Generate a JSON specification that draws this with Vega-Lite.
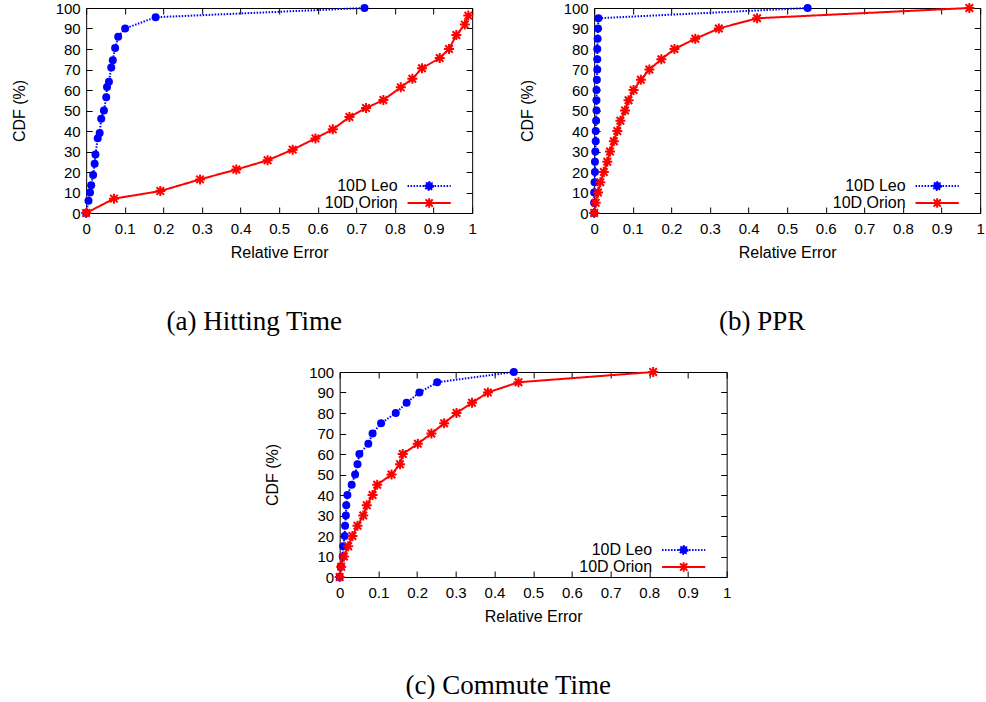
{
  "$schema": "https://vega.github.io/schema/vega-lite/v6.json",
  "background": "white",
  "padding": {"left": 10, "top": -2, "right": 0, "bottom": 0},
  "config": {
    "font": "Liberation Sans",
    "view": {"stroke": "black", "strokeWidth": 1},
    "axis": {
      "labelFont": "Liberation Sans", "labelFontSize": 15, "labelColor": "black",
      "titleFont": "Liberation Sans", "titleFontSize": 16, "titleFontWeight": "normal", "titleColor": "black",
      "tickColor": "black", "tickWidth": 1, "tickSize": -6, "grid": false, "domain": false,
      "labelFlush": false, "labelOverlap": false
    },
    "axisX": {"labelPadding": 14.5, "titlePadding": 8},
    "axisY": {"labelPadding": 12, "titlePadding": 28},
    "title": {"orient": "bottom", "anchor": "middle", "frame": "group", "offset": 48, "dx": -25, "font": "Liberation Serif", "fontSize": 27, "fontWeight": "normal", "color": "black"},
    "legend": {
      "orient": "bottom-right", "offset": 1, "padding": 0, "title": null,
      "labelFont": "Liberation Sans", "labelFontSize": 16, "labelColor": "black",
      "labelAlign": "right", "labelOffset": -40.5, "symbolSize": 256, "rowPadding": 0
    }
  },
  "resolve": {"scale": {"color": "independent", "strokeDash": "independent"}, "legend": {"color": "independent", "strokeDash": "independent"}},
  "spacing": 27,
  "center": true,
  "vconcat": [
    {
      "spacing": 40,
      "resolve": {"scale": {"color": "independent", "strokeDash": "independent"}, "legend": {"color": "independent", "strokeDash": "independent"}},
      "hconcat": [
        {
          "width": 386, "height": 205,
          "title": {"text": "(a) Hitting Time"},
          "data": {"values": [
            {"series": "10D Leo", "x": 0, "y": 0},
            {"series": "10D Leo", "x": 0.006, "y": 6},
            {"series": "10D Leo", "x": 0.010, "y": 10},
            {"series": "10D Leo", "x": 0.013, "y": 13.5},
            {"series": "10D Leo", "x": 0.018, "y": 18.5},
            {"series": "10D Leo", "x": 0.022, "y": 24},
            {"series": "10D Leo", "x": 0.024, "y": 28.5},
            {"series": "10D Leo", "x": 0.030, "y": 36.5},
            {"series": "10D Leo", "x": 0.035, "y": 39},
            {"series": "10D Leo", "x": 0.039, "y": 46},
            {"series": "10D Leo", "x": 0.046, "y": 50},
            {"series": "10D Leo", "x": 0.052, "y": 56.5},
            {"series": "10D Leo", "x": 0.054, "y": 61.5},
            {"series": "10D Leo", "x": 0.059, "y": 64},
            {"series": "10D Leo", "x": 0.065, "y": 71},
            {"series": "10D Leo", "x": 0.069, "y": 74.5},
            {"series": "10D Leo", "x": 0.075, "y": 80.5},
            {"series": "10D Leo", "x": 0.083, "y": 86},
            {"series": "10D Leo", "x": 0.101, "y": 90},
            {"series": "10D Leo", "x": 0.180, "y": 95.5},
            {"series": "10D Leo", "x": 0.721, "y": 100},
            {"series": "10D Orion", "x": 0, "y": 0},
            {"series": "10D Orion", "x": 0.072, "y": 7},
            {"series": "10D Orion", "x": 0.192, "y": 10.7},
            {"series": "10D Orion", "x": 0.295, "y": 16.4},
            {"series": "10D Orion", "x": 0.389, "y": 21.2},
            {"series": "10D Orion", "x": 0.470, "y": 25.7},
            {"series": "10D Orion", "x": 0.535, "y": 30.9},
            {"series": "10D Orion", "x": 0.594, "y": 36.4},
            {"series": "10D Orion", "x": 0.639, "y": 40.8},
            {"series": "10D Orion", "x": 0.682, "y": 46.8},
            {"series": "10D Orion", "x": 0.725, "y": 51.2},
            {"series": "10D Orion", "x": 0.770, "y": 55.1},
            {"series": "10D Orion", "x": 0.815, "y": 61.3},
            {"series": "10D Orion", "x": 0.845, "y": 65.5},
            {"series": "10D Orion", "x": 0.870, "y": 70.6},
            {"series": "10D Orion", "x": 0.916, "y": 75.6},
            {"series": "10D Orion", "x": 0.940, "y": 80},
            {"series": "10D Orion", "x": 0.959, "y": 86.8},
            {"series": "10D Orion", "x": 0.981, "y": 91.9},
            {"series": "10D Orion", "x": 0.990, "y": 96.3}
          ]},
          "layer": [
            {
              "mark": {"type": "line", "strokeWidth": 2, "clip": false},
              "encoding": {
                "x": {"field": "x", "type": "quantitative", "scale": {"domain": [0, 1], "nice": false, "zero": false}, "axis": {"orient": "bottom", "title": "Relative Error", "values": [0, 0.1, 0.2, 0.3, 0.4, 0.5, 0.6, 0.7, 0.8, 0.9, 1], "format": "~g"}},
                "y": {"field": "y", "type": "quantitative", "scale": {"domain": [0, 100], "nice": false}, "axis": {"orient": "left", "title": "CDF (%)", "values": [0, 10, 20, 30, 40, 50, 60, 70, 80, 90, 100]}},
                "order": {"field": "y", "type": "quantitative"},
                "color": {"field": "series", "type": "nominal", "scale": {"domain": ["10D Leo", "10D Orion"], "range": ["#0000ff", "#ff0000"]},
                  "legend": {"encode": {"symbols": {"update": {
                    "shape": {"signal": "datum.value === '10D Leo' ? 'M4.73,0M-2.7,0L2.7,0M0.5,0L0.433,0.25L0.25,0.433L0,0.5L-0.25,0.433L-0.433,0.25L-0.5,0L-0.433,-0.25L-0.25,-0.433L0,-0.5L0.25,-0.433L0.433,-0.25Z' : 'M4.73,0M-2.7,0L2.7,0M0,-0.6L0,0.6M-0.45,-0.45L0.45,0.45M-0.45,0.45L0.45,-0.45'"},
                    "fill": {"signal": "datum.value === '10D Leo' ? '#0000ff' : 'transparent'"},
                    "stroke": {"signal": "datum.value === '10D Leo' ? '#0000ff' : '#ff0000'"},
                    "strokeDash": {"signal": "datum.value === '10D Leo' ? [1.5, 1.5] : [1, 0]"},
                    "strokeWidth": {"value": 2},
                    "size": {"value": 256},
                    "opacity": {"value": 1}
                  }}}}},
                "strokeDash": {"field": "series", "type": "nominal", "scale": {"domain": ["10D Leo", "10D Orion"], "range": [[1.5, 1.5], [1, 0]]}, "legend": null}
              }
            },
            {
              "transform": [{"filter": "datum.series === '10D Leo'"}],
              "mark": {"type": "point", "shape": "circle", "filled": true, "color": "#0000ff", "size": 64, "opacity": 1, "clip": false},
              "encoding": {
                "x": {"field": "x", "type": "quantitative", "axis": null},
                "y": {"field": "y", "type": "quantitative", "axis": null}
              }
            },
            {
              "transform": [{"filter": "datum.series === '10D Orion'"}],
              "mark": {"type": "point", "shape": "M-1,0L1,0M0,-1L0,1M-0.75,-0.75L0.75,0.75M-0.75,0.75L0.75,-0.75", "filled": false, "stroke": "#ff0000", "strokeWidth": 2, "size": 100, "opacity": 1, "clip": false},
              "encoding": {
                "x": {"field": "x", "type": "quantitative", "axis": {"orient": "top", "labels": false, "title": null, "values": [0, 0.1, 0.2, 0.3, 0.4, 0.5, 0.6, 0.7, 0.8, 0.9, 1]}},
                "y": {"field": "y", "type": "quantitative", "axis": {"orient": "right", "labels": false, "title": null, "values": [0, 10, 20, 30, 40, 50, 60, 70, 80, 90, 100]}}
              }
            }
          ]
        },
        {
          "width": 386, "height": 205,
          "title": {"text": "(b) PPR"},
          "data": {"values": [
            {"series": "10D Leo", "x": 0, "y": 0},
            {"series": "10D Leo", "x": 0, "y": 5},
            {"series": "10D Leo", "x": 0, "y": 10},
            {"series": "10D Leo", "x": 0.001, "y": 15},
            {"series": "10D Leo", "x": 0.002, "y": 20},
            {"series": "10D Leo", "x": 0.002, "y": 25},
            {"series": "10D Leo", "x": 0.003, "y": 30},
            {"series": "10D Leo", "x": 0.004, "y": 35},
            {"series": "10D Leo", "x": 0.004, "y": 40},
            {"series": "10D Leo", "x": 0.005, "y": 45},
            {"series": "10D Leo", "x": 0.006, "y": 50},
            {"series": "10D Leo", "x": 0.006, "y": 55},
            {"series": "10D Leo", "x": 0.006, "y": 60},
            {"series": "10D Leo", "x": 0.007, "y": 65},
            {"series": "10D Leo", "x": 0.008, "y": 70},
            {"series": "10D Leo", "x": 0.008, "y": 75},
            {"series": "10D Leo", "x": 0.008, "y": 80},
            {"series": "10D Leo", "x": 0.009, "y": 85},
            {"series": "10D Leo", "x": 0.010, "y": 90},
            {"series": "10D Leo", "x": 0.011, "y": 95},
            {"series": "10D Leo", "x": 0.553, "y": 100},
            {"series": "10D Orion", "x": 0, "y": 0},
            {"series": "10D Orion", "x": 0.004, "y": 5},
            {"series": "10D Orion", "x": 0.010, "y": 10},
            {"series": "10D Orion", "x": 0.016, "y": 15},
            {"series": "10D Orion", "x": 0.025, "y": 20},
            {"series": "10D Orion", "x": 0.034, "y": 25},
            {"series": "10D Orion", "x": 0.041, "y": 30},
            {"series": "10D Orion", "x": 0.051, "y": 35},
            {"series": "10D Orion", "x": 0.060, "y": 40},
            {"series": "10D Orion", "x": 0.068, "y": 45},
            {"series": "10D Orion", "x": 0.080, "y": 50},
            {"series": "10D Orion", "x": 0.089, "y": 55},
            {"series": "10D Orion", "x": 0.102, "y": 60},
            {"series": "10D Orion", "x": 0.121, "y": 65},
            {"series": "10D Orion", "x": 0.143, "y": 70},
            {"series": "10D Orion", "x": 0.174, "y": 75},
            {"series": "10D Orion", "x": 0.208, "y": 80},
            {"series": "10D Orion", "x": 0.262, "y": 85},
            {"series": "10D Orion", "x": 0.323, "y": 90},
            {"series": "10D Orion", "x": 0.422, "y": 95},
            {"series": "10D Orion", "x": 0.972, "y": 100}
          ]},
          "layer": [
            {
              "mark": {"type": "line", "strokeWidth": 2, "clip": false},
              "encoding": {
                "x": {"field": "x", "type": "quantitative", "scale": {"domain": [0, 1], "nice": false, "zero": false}, "axis": {"orient": "bottom", "title": "Relative Error", "values": [0, 0.1, 0.2, 0.3, 0.4, 0.5, 0.6, 0.7, 0.8, 0.9, 1], "format": "~g"}},
                "y": {"field": "y", "type": "quantitative", "scale": {"domain": [0, 100], "nice": false}, "axis": {"orient": "left", "title": "CDF (%)", "values": [0, 10, 20, 30, 40, 50, 60, 70, 80, 90, 100]}},
                "order": {"field": "y", "type": "quantitative"},
                "color": {"field": "series", "type": "nominal", "scale": {"domain": ["10D Leo", "10D Orion"], "range": ["#0000ff", "#ff0000"]},
                  "legend": {"encode": {"symbols": {"update": {
                    "shape": {"signal": "datum.value === '10D Leo' ? 'M4.73,0M-2.7,0L2.7,0M0.5,0L0.433,0.25L0.25,0.433L0,0.5L-0.25,0.433L-0.433,0.25L-0.5,0L-0.433,-0.25L-0.25,-0.433L0,-0.5L0.25,-0.433L0.433,-0.25Z' : 'M4.73,0M-2.7,0L2.7,0M0,-0.6L0,0.6M-0.45,-0.45L0.45,0.45M-0.45,0.45L0.45,-0.45'"},
                    "fill": {"signal": "datum.value === '10D Leo' ? '#0000ff' : 'transparent'"},
                    "stroke": {"signal": "datum.value === '10D Leo' ? '#0000ff' : '#ff0000'"},
                    "strokeDash": {"signal": "datum.value === '10D Leo' ? [1.5, 1.5] : [1, 0]"},
                    "strokeWidth": {"value": 2},
                    "size": {"value": 256},
                    "opacity": {"value": 1}
                  }}}}},
                "strokeDash": {"field": "series", "type": "nominal", "scale": {"domain": ["10D Leo", "10D Orion"], "range": [[1.5, 1.5], [1, 0]]}, "legend": null}
              }
            },
            {
              "transform": [{"filter": "datum.series === '10D Leo'"}],
              "mark": {"type": "point", "shape": "circle", "filled": true, "color": "#0000ff", "size": 64, "opacity": 1, "clip": false},
              "encoding": {
                "x": {"field": "x", "type": "quantitative", "axis": null},
                "y": {"field": "y", "type": "quantitative", "axis": null}
              }
            },
            {
              "transform": [{"filter": "datum.series === '10D Orion'"}],
              "mark": {"type": "point", "shape": "M-1,0L1,0M0,-1L0,1M-0.75,-0.75L0.75,0.75M-0.75,0.75L0.75,-0.75", "filled": false, "stroke": "#ff0000", "strokeWidth": 2, "size": 100, "opacity": 1, "clip": false},
              "encoding": {
                "x": {"field": "x", "type": "quantitative", "axis": {"orient": "top", "labels": false, "title": null, "values": [0, 0.1, 0.2, 0.3, 0.4, 0.5, 0.6, 0.7, 0.8, 0.9, 1]}},
                "y": {"field": "y", "type": "quantitative", "axis": {"orient": "right", "labels": false, "title": null, "values": [0, 10, 20, 30, 40, 50, 60, 70, 80, 90, 100]}}
              }
            }
          ]
        }
      ]
    },
    {
      "width": 387, "height": 205,
      "title": {"text": "(c) Commute Time"},
      "data": {"values": [
        {"series": "10D Leo", "x": 0, "y": 0},
        {"series": "10D Leo", "x": 0.003, "y": 5},
        {"series": "10D Leo", "x": 0.008, "y": 10},
        {"series": "10D Leo", "x": 0.009, "y": 15},
        {"series": "10D Leo", "x": 0.013, "y": 20},
        {"series": "10D Leo", "x": 0.014, "y": 25},
        {"series": "10D Leo", "x": 0.016, "y": 30},
        {"series": "10D Leo", "x": 0.017, "y": 35},
        {"series": "10D Leo", "x": 0.020, "y": 40},
        {"series": "10D Leo", "x": 0.031, "y": 45},
        {"series": "10D Leo", "x": 0.040, "y": 50},
        {"series": "10D Leo", "x": 0.046, "y": 55},
        {"series": "10D Leo", "x": 0.051, "y": 60},
        {"series": "10D Leo", "x": 0.074, "y": 65},
        {"series": "10D Leo", "x": 0.085, "y": 70},
        {"series": "10D Leo", "x": 0.107, "y": 75},
        {"series": "10D Leo", "x": 0.145, "y": 80},
        {"series": "10D Leo", "x": 0.173, "y": 85},
        {"series": "10D Leo", "x": 0.206, "y": 90},
        {"series": "10D Leo", "x": 0.252, "y": 95},
        {"series": "10D Leo", "x": 0.450, "y": 100},
        {"series": "10D Orion", "x": 0, "y": 0},
        {"series": "10D Orion", "x": 0.004, "y": 5},
        {"series": "10D Orion", "x": 0.011, "y": 10},
        {"series": "10D Orion", "x": 0.022, "y": 15},
        {"series": "10D Orion", "x": 0.033, "y": 20},
        {"series": "10D Orion", "x": 0.046, "y": 25},
        {"series": "10D Orion", "x": 0.061, "y": 30},
        {"series": "10D Orion", "x": 0.070, "y": 35},
        {"series": "10D Orion", "x": 0.085, "y": 40},
        {"series": "10D Orion", "x": 0.097, "y": 45},
        {"series": "10D Orion", "x": 0.134, "y": 50},
        {"series": "10D Orion", "x": 0.156, "y": 55},
        {"series": "10D Orion", "x": 0.163, "y": 60},
        {"series": "10D Orion", "x": 0.202, "y": 65},
        {"series": "10D Orion", "x": 0.237, "y": 70},
        {"series": "10D Orion", "x": 0.270, "y": 75},
        {"series": "10D Orion", "x": 0.302, "y": 80},
        {"series": "10D Orion", "x": 0.342, "y": 85},
        {"series": "10D Orion", "x": 0.383, "y": 90},
        {"series": "10D Orion", "x": 0.462, "y": 95},
        {"series": "10D Orion", "x": 0.810, "y": 100}
      ]},
      "layer": [
        {
          "mark": {"type": "line", "strokeWidth": 2, "clip": false},
          "encoding": {
            "x": {"field": "x", "type": "quantitative", "scale": {"domain": [0, 1], "nice": false, "zero": false}, "axis": {"orient": "bottom", "title": "Relative Error", "values": [0, 0.1, 0.2, 0.3, 0.4, 0.5, 0.6, 0.7, 0.8, 0.9, 1], "format": "~g"}},
            "y": {"field": "y", "type": "quantitative", "scale": {"domain": [0, 100], "nice": false}, "axis": {"orient": "left", "title": "CDF (%)", "values": [0, 10, 20, 30, 40, 50, 60, 70, 80, 90, 100]}},
            "order": {"field": "y", "type": "quantitative"},
            "color": {"field": "series", "type": "nominal", "scale": {"domain": ["10D Leo", "10D Orion"], "range": ["#0000ff", "#ff0000"]},
              "legend": {"encode": {"symbols": {"update": {
                "shape": {"signal": "datum.value === '10D Leo' ? 'M4.73,0M-2.7,0L2.7,0M0.5,0L0.433,0.25L0.25,0.433L0,0.5L-0.25,0.433L-0.433,0.25L-0.5,0L-0.433,-0.25L-0.25,-0.433L0,-0.5L0.25,-0.433L0.433,-0.25Z' : 'M4.73,0M-2.7,0L2.7,0M0,-0.6L0,0.6M-0.45,-0.45L0.45,0.45M-0.45,0.45L0.45,-0.45'"},
                "fill": {"signal": "datum.value === '10D Leo' ? '#0000ff' : 'transparent'"},
                "stroke": {"signal": "datum.value === '10D Leo' ? '#0000ff' : '#ff0000'"},
                "strokeDash": {"signal": "datum.value === '10D Leo' ? [1.5, 1.5] : [1, 0]"},
                "strokeWidth": {"value": 2},
                "size": {"value": 256},
                "opacity": {"value": 1}
              }}}}},
            "strokeDash": {"field": "series", "type": "nominal", "scale": {"domain": ["10D Leo", "10D Orion"], "range": [[1.5, 1.5], [1, 0]]}, "legend": null}
          }
        },
        {
          "transform": [{"filter": "datum.series === '10D Leo'"}],
          "mark": {"type": "point", "shape": "circle", "filled": true, "color": "#0000ff", "size": 64, "opacity": 1, "clip": false},
          "encoding": {
            "x": {"field": "x", "type": "quantitative", "axis": null},
            "y": {"field": "y", "type": "quantitative", "axis": null}
          }
        },
        {
          "transform": [{"filter": "datum.series === '10D Orion'"}],
          "mark": {"type": "point", "shape": "M-1,0L1,0M0,-1L0,1M-0.75,-0.75L0.75,0.75M-0.75,0.75L0.75,-0.75", "filled": false, "stroke": "#ff0000", "strokeWidth": 2, "size": 100, "opacity": 1, "clip": false},
          "encoding": {
            "x": {"field": "x", "type": "quantitative", "axis": {"orient": "top", "labels": false, "title": null, "values": [0, 0.1, 0.2, 0.3, 0.4, 0.5, 0.6, 0.7, 0.8, 0.9, 1]}},
            "y": {"field": "y", "type": "quantitative", "axis": {"orient": "right", "labels": false, "title": null, "values": [0, 10, 20, 30, 40, 50, 60, 70, 80, 90, 100]}}
          }
        }
      ]
    }
  ]
}
